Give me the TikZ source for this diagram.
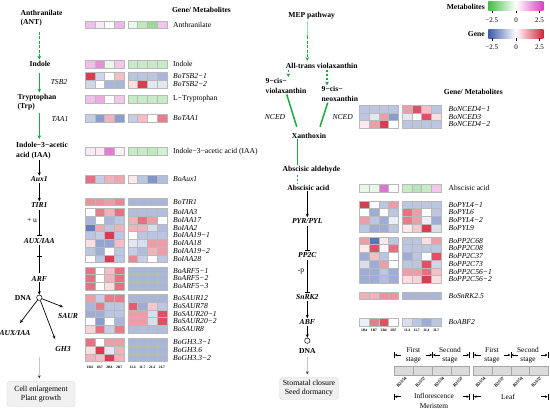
\documentclass[tikz,border=0pt]{standalone}
\usepackage{fontspec}
\setmainfont{Liberation Serif}
\usetikzlibrary{arrows.meta}
\definecolor{hR}{RGB}{214,38,62}
\definecolor{hB}{RGB}{62,92,172}
\definecolor{hG}{RGB}{70,190,70}
\definecolor{hM}{RGB}{212,70,190}
\definecolor{pgreen}{RGB}{25,170,65}
\newcommand\hrow[4]{%
  \foreach \cc [count=\i from 0] in {#3}{\filldraw[cellb,fill=\cc] ({#1+\i*9.75},{#2}) rectangle ++(9.75,7.75);}%
  \foreach \cc [count=\i from 0] in {#4}{\filldraw[cellb,fill=\cc] ({#1+42.8+\i*9.75},{#2}) rectangle ++(9.75,7.75);}%
}
\newcommand\lmark[2]{\draw[mk] (#1,{#2-3}) -- (#1,{#2+3}); \draw[mk,-{Stealth[length=2.5pt,width=2.5pt]}] ({#1+7},#2) -- ({#1+0.5},#2);}
\newcommand\rmark[2]{\draw[mk] (#1,{#2-3}) -- (#1,{#2+3}); \draw[mk,-{Stealth[length=2.5pt,width=2.5pt]}] ({#1-7},#2) -- ({#1-0.5},#2);}
\begin{document}
\begin{tikzpicture}[x=1pt,y=-1pt,
  cellb/.style={draw=gray!55,line width=0.35pt},
  pw/.style={font=\bfseries\fontsize{7.6}{9.6}\selectfont,inner sep=1pt},
  pg/.style={font=\bfseries\itshape\fontsize{7.6}{9.6}\selectfont,inner sep=1pt},
  lab/.style={font=\fontsize{7.6}{9}\selectfont,anchor=west,inner sep=0pt},
  glab/.style={lab,font=\itshape\fontsize{7.6}{9}\selectfont},
  smp/.style={font=\bfseries\fontsize{3.6}{4}\selectfont,inner sep=0pt},
  tick/.style={font=\fontsize{7}{8}\selectfont,inner sep=0pt},
  lg/.style={font=\fontsize{7.4}{9.3}\selectfont,inner sep=0pt,align=center},
  rot/.style={font=\bfseries\fontsize{4.4}{5}\selectfont,inner sep=0pt,rotate=45,anchor=east},
  mk/.style={line width=0.5pt},
  garrow/.style={draw=pgreen,line width=1.5pt,-{Stealth[length=3.8pt,width=3.8pt]}},
  gline/.style={draw=pgreen,line width=1.5pt},
  barrow/.style={draw=black,line width=0.7pt,-{Stealth[length=3.5pt,width=3pt]}},
  inh/.style={draw=black,line width=0.7pt,-{Bar[width=5pt,line width=0.8pt]}},
  grarrow/.style={draw=gray!45,line width=0.5pt,-{Stealth[length=3pt,width=2.8pt,color=black!80]}},
  outbox/.style={draw=gray!30,fill=gray!12,rounded corners=3pt,align=center,font=\fontsize{7.8}{9}\selectfont,inner sep=0pt}
]
\useasboundingbox (0,0) rectangle (550,409);

% ================= LEFT PATHWAY =================
\node[pw,anchor=west,align=left] (ant) at (19.5,18) {Anthranilate\\(ANT)};
\node[pw] (indole) at (40,63.5) {Indole};
\node[pw,anchor=west,align=left] (trp) at (16.5,102) {Tryptophan\\(Trp)};
\node[pw,anchor=west,align=left] (iaa) at (15,150.5) {Indole−3−acetic\\acid (IAA)};
\node[pg] (aux1) at (39.3,179.5) {Aux1};
\node[pg] (tir1) at (39.3,205) {TIR1};
\node[pg] (auxiaa) at (39.3,241) {AUX/IAA};
\node[pg] (arf) at (39.3,278.5) {ARF};
\node[draw,circle,minimum size=5.4pt,inner sep=0pt,line width=0.5pt] (dna) at (39.3,297.7) {};
\node[pw] (dnat) at (23,297.5) {DNA};
\node[pg] (saur) at (68,316) {SAUR};
\node[pg] (auxiaa2) at (15,333) {AUX/IAA};
\node[pg] (gh3) at (63,349.5) {GH3};
\node[outbox,minimum width=68pt,minimum height=25pt] (cell) at (41,394) {Cell enlargement\\Plant growth};
\node[font=\itshape\fontsize{7.6}{9}\selectfont] (tsb) at (59,82) {TSB2};
\node[font=\itshape\fontsize{7.6}{9}\selectfont] (taa) at (60,118.5) {TAA1};
\node[font=\fontsize{7.6}{9}\selectfont] (plusu) at (32,220) {+ u};

\coordinate (c1) at (39.3,32);
\coordinate (c2) at (39.3,72.7);
\coordinate (c3) at (39.3,113);
\draw[garrow,dashed,dash pattern=on 3pt off 1.5pt] (c1) -- (indole.north -| c1);
\draw[garrow] (c2) -- (trp.north -| c2);
\draw[garrow] (c3) -- ([yshift=2pt]iaa.north -| c3);
\draw[barrow] (iaa.south -| aux1) -- (aux1.north);
\draw[barrow] (aux1.south) -- (tir1.north);
\draw[inh] ([yshift=-1pt]tir1.south) -- ([yshift=1pt]auxiaa.north);
\draw[line width=0.7pt] (auxiaa.south) -- ([yshift=1.5pt]arf.north);
\draw[line width=0.8pt] (36.8,256) -- (41.8,256);
\draw[barrow] (arf.south) -- (dna.north);
\coordinate (saurE) at (63,307);
\coordinate (auxE) at (20,323);
\coordinate (gh3E) at (55,339);
\draw[barrow] (dna) -- (saurE);
\draw[barrow] (dna) -- (auxE);
\draw[barrow] (dna) -- (gh3E);
\coordinate (g1) at (39.3,357);
\draw[grarrow] (g1) -- ([yshift=3pt]cell.north -| g1);

% ================= LEFT HEATMAP =================
\node[pw] (hdrL) at (201.5,9.5) {Gene/ Metabolites};
\hrow{85}{20.7}{hM!35,hM!12,white,hM!40}{hG!10,hG!35,hG!55,hM!30}
\hrow{85}{60}{hM!35,hM!60,hG!12,hM!30}{hG!30,hG!30,hG!30,hG!30}
\hrow{85}{72.3}{hR!90,hB!25,white,hR!30}{hB!35,hB!35,hB!35,hB!45}
\hrow{85}{80.05}{hB!25,white,hB!45,hB!45}{hR!15,hR!90,hB!15,hB!15}
\hrow{85}{95}{hM!35,hM!45,white,hM!30}{hG!30,hG!30,hG!30,hG!30}
\hrow{85}{114.3}{hB!30,hB!60,hR!35,hB!60}{hB!30,hR!30,white,hR!60}
\hrow{85}{147.5}{hM!12,hM!12,hM!70,hM!8}{hG!30,hG!30,hG!35,hG!25}
\hrow{85}{175}{hR!65,hB!30,hR!35,hR!40}{hR!10,hB!35,hB!65,hB!40}
\hrow{85}{197.7}{hR!50,hR!50,hR!45,hR!55}{hB!45,hB!45,hB!45,hB!45}
\hrow{85}{208.3}{white,hR!60,hR!35,hR!65}{hB!40,hB!40,hB!40,hB!40}
\hrow{85}{216.05}{hB!45,white,hB!45,hB!35}{hR!35,hR!65,hR!45,white}
\hrow{85}{223.8}{hB!80,hR!40,hB!35,hR!35}{hR!35,hR!35,hB!20,hB!40}
\hrow{85}{231.55}{hB!35,hB!30,hR!90,hB!35}{white,hB!35,hB!35,hB!35}
\hrow{85}{239.3}{hR!15,hB!55,hB!55,hR!30}{hB!15,hB!20,hR!45,hR!45}
\hrow{85}{247.05}{hB!35,hB!50,white,hB!35}{hB!30,hB!40,hR!35,hR!45}
\hrow{85}{254.8}{white,hB!35,hR!90,hB!35}{hR!55,hB!30,white,hB!35}
\hrow{85}{266.7}{hR!65,white,hR!30,hR!65}{hB!45,hB!45,hB!45,hB!45}
\hrow{85}{274.45}{hR!65,white,hR!35,hR!65}{hB!45,hB!45,hB!45,hB!45}
\hrow{85}{282.2}{hR!65,white,hR!15,hR!65}{hB!45,hB!45,hB!45,hB!45}
\hrow{85}{294.3}{hR!45,hB!30,hR!60,hR!60}{hB!45,hB!45,hB!45,hB!45}
\hrow{85}{302.05}{hB!45,hR!60,hB!35,hB!35}{hR!75,hB!50,hR!25,hB!35}
\hrow{85}{309.8}{hB!50,hB!50,hB!35,hB!35}{hR!45,hR!45,hB!20,hR!80}
\hrow{85}{317.55}{white,hB!60,white,hB!45}{hR!45,hR!45,hB!20,hR!80}
\hrow{85}{325.3}{hR!20,hR!65,hB!30,hR!60}{hB!40,hB!40,hB!40,hB!40}
\hrow{85}{338.3}{hR!65,white,hR!45,hR!45}{hB!45,hB!45,hB!45,hB!45}
\hrow{85}{346.05}{hR!15,hR!90,hB!15,hR!35}{hB!45,hB!45,hB!45,hB!45}
\hrow{85}{353.8}{hR!35,hR!30,hR!90,hR!35}{hB!45,hB!45,hB!45,hB!45}
\foreach \t [count=\i from 0] in {1B4,1B7,2B4,2B7}{\node[smp] (sl\i) at ({89.9+\i*9.75},367.7) {\t};}
\foreach \t [count=\i from 0] in {1L4,1L7,2L4,2L7}{\node[smp] (sm\i) at ({132.7+\i*9.75},367.7) {\t};}

\node[lab] (l1) at (173,24.6) {Anthranilate};
\node[lab] (l2) at (173,63.9) {Indole};
\node[glab] (l3) at (173,76.2) {BoTSB2−1};
\node[glab] (l4) at (173,83.9) {BoTSB2−2};
\node[lab] (l5) at (173,98.9) {L−Tryptophan};
\node[glab] (l6) at (173,118.2) {BoTAA1};
\node[lab] (l7) at (173,151.4) {Indole−3−acetic acid (IAA)};
\node[glab] (l8) at (173,178.9) {BoAux1};
\node[glab] (l9) at (173,201.6) {BoTIR1};
\node[glab] (l10) at (173,212.2) {BoIAA3};
\node[glab] (l11) at (173,219.9) {BoIAA17};
\node[glab] (l12) at (173,227.7) {BoIAA2};
\node[glab] (l13) at (173,235.4) {BoIAA19−1};
\node[glab] (l14) at (173,243.2) {BoIAA18};
\node[glab] (l15) at (173,250.9) {BoIAA19−2};
\node[glab] (l16) at (173,258.7) {BoIAA28};
\node[glab] (l17) at (173,270.6) {BoARF5−1};
\node[glab] (l18) at (173,278.3) {BoARF5−2};
\node[glab] (l19) at (173,286.1) {BoARF5−3};
\node[glab] (l20) at (173,298.2) {BoSAUR12};
\node[glab] (l21) at (173,305.9) {BoSAUR78};
\node[glab] (l22) at (173,313.7) {BoSAUR20−1};
\node[glab] (l23) at (173,321.4) {BoSAUR20−2};
\node[glab] (l24) at (173,329.2) {BoSAUR8};
\node[glab] (l25) at (173,342.2) {BoGH3.3−1};
\node[glab] (l26) at (173,349.9) {BoGH3.6};
\node[glab] (l27) at (173,357.7) {BoGH3.3−2};

% ================= RIGHT PATHWAY =================
\node[pw] (mep) at (311.7,16) {MEP pathway};
\node[pw] (atv) at (321.7,65.7) {All-trans violaxanthin};
\node[pw,anchor=west,align=left] (cisv) at (264.5,85.7) {9−cis−\\violaxanthin};
\node[pw,anchor=west,align=left] (cisn) at (320.5,94) {9−cis−\\neoxanthin};
\node[font=\itshape\fontsize{7.6}{9}\selectfont] (ncedA) at (275,117) {NCED};
\node[font=\itshape\fontsize{7.6}{9}\selectfont] (ncedB) at (342.7,117.3) {NCED};
\node[pw] (xan) at (309,135.5) {Xanthoxin};
\node[pw] (aald) at (311.5,170) {Abscisic aldehyde};
\node[pw] (aacid) at (308.3,187.5) {Abscisic acid};
\node[pg] (pyr) at (307.3,221) {PYR/PYL};
\node[pg] (pp2c) at (307.3,255.5) {PP2C};
\node[font=\fontsize{7.6}{9}\selectfont] (ptx) at (301,271.7) {-p};
\node[pg] (snrk) at (307.3,297.5) {SnRK2};
\node[pg] (abf) at (307.3,322) {ABF};
\node[draw,circle,minimum size=5.4pt,inner sep=0pt,line width=0.5pt] (dna2) at (307.3,340.7) {};
\node[pw] (dnat2) at (307.3,350.5) {DNA};
\node[outbox,minimum width=59pt,minimum height=22pt] (stom) at (309,388.5) {Stomatal closure\\Seed dormancy};

\coordinate (m1) at (307.3,37.5);
\draw[draw=pgreen!45,line width=0.5pt,-{Stealth[length=2.5pt,width=2.5pt]}] (mep.south -| m1) -- (m1);
\draw[garrow,dashed,dash pattern=on 3pt off 1.5pt] ([yshift=1pt]m1) -- ([yshift=1pt]atv.north -| m1);
\coordinate (v1) at (288.3,70);
\coordinate (v2) at (327,70);
\draw[garrow,dashed,dash pattern=on 2.5pt off 1.5pt] (v1) -- (cisv.north -| v1);
\draw[garrow,dashed,dash pattern=on 2.5pt off 1.5pt] (v2) -- (cisn.north -| v2);
\coordinate (x1) at (296.7,126.7);
\coordinate (x2) at (320,126.7);
\draw[gline] (cisv.south -| 286.7,0) -- (x1);
\draw[gline] (cisn.south -| 327.7,0) -- (x2);
\coordinate (xa) at (297.7,142.7);
\draw[gline] (xan.south -| xa) -- (aald.north -| xa);
\draw[gline,dashed,dash pattern=on 2.5pt off 1.5pt] (aald.south -| xa) -- (aacid.north -| xa);
\draw[barrow] (aacid.south -| pyr) -- (pyr.north);
\draw[inh] ([yshift=-1pt]pyr.south) -- ([yshift=1pt]pp2c.north);
\draw[inh] ([yshift=-1pt]pp2c.south) -- ([yshift=1pt]snrk.north);
\draw[barrow] (snrk.south) -- (abf.north);
\draw[barrow] (abf.south) -- (dna2.north);
\coordinate (g2) at (307.3,356.7);
\draw[grarrow] (g2) -- ([yshift=3pt]stom.north -| g2);

% ================= RIGHT HEATMAP =================
\node[pw] (hdrR) at (473.3,92) {Gene/ Metabolites};
\hrow{359.3}{105}{hB!35,hB!35,hB!35,hB!35}{hR!45,hR!80,hR!30,hB!35}
\hrow{359.3}{112.75}{hB!35,hB!15,hR!45,hB!60}{hB!15,white,hR!80,hR!15}
\hrow{359.3}{120.5}{hR!10,hR!45,hR!90,white}{hB!35,hB!35,hB!35,hB!35}
\hrow{359.3}{184}{hG!12,hG!12,hM!75,white}{hG!30,hG!40,hG!30,hM!30}
\hrow{359.3}{200.7}{hR!90,white,hB!35,hR!45}{hB!35,hB!35,hB!35,hB!35}
\hrow{359.3}{208.45}{white,hB!50,white,hB!35}{hR!65,hR!45,white,hB!35}
\hrow{359.3}{216.2}{hR!45,hB!35,hB!50,hB!10}{hR!60,hR!45,hB!10,hB!50}
\hrow{359.3}{223.95}{hB!35,hB!50,hB!50,hB!35}{hR!10,hR!25,hR!90,hB!20}
\hrow{359.3}{236.7}{hR!45,hB!85,hR!10,hB!35}{hB!35,hB!35,hR!15,hR!45}
\hrow{359.3}{244.45}{hR!10,hR!80,white,hR!65}{hB!35,hB!35,hB!35,hB!35}
\hrow{359.3}{252.2}{hB!50,hR!30,hB!35,white}{hB!50,hB!35,white,hR!80}
\hrow{359.3}{259.95}{hB!20,hB!50,hR!45,white}{hB!35,hB!35,hR!80,hB!25}
\hrow{359.3}{267.7}{hB!50,hB!50,hB!35,hB!50}{hR!45,hR!45,hR!65,hR!30}
\hrow{359.3}{275.45}{hB!50,hB!50,hB!40,hB!50}{hR!15,hR!20,hR!90,hR!15}
\hrow{359.3}{291.7}{hR!35,hR!35,hR!50,hR!50}{hB!45,hB!45,hB!45,hB!45}
\hrow{359.3}{318.3}{hB!10,hR!60,hR!80,white}{hB!20,hB!35,hB!50,hB!35}
\foreach \t [count=\i from 0] in {1B4,1B7,2B4,2B7}{\node[smp] (rl\i) at ({364.2+\i*9.75},330.7) {\t};}
\foreach \t [count=\i from 0] in {1L4,1L7,2L4,2L7}{\node[smp] (rm\i) at ({407+\i*9.75},330.7) {\t};}

\node[glab] (r1) at (448.5,108.9) {BoNCED4−1};
\node[glab] (r2) at (448.5,116.6) {BoNCED3};
\node[glab] (r3) at (448.5,124.4) {BoNCED4−2};
\node[lab] (r4) at (448.5,187.9) {Abscisic acid};
\node[glab] (r5) at (448.5,204.6) {BoPYL4−1};
\node[glab] (r6) at (448.5,212.3) {BoPYL6};
\node[glab] (r7) at (448.5,220.1) {BoPYL4−2};
\node[glab] (r8) at (448.5,227.8) {BoPYL9};
\node[glab] (r9) at (448.5,240.6) {BoPP2C68};
\node[glab] (r10) at (448.5,248.3) {BoPP2C08};
\node[glab] (r11) at (448.5,256.1) {BoPP2C37};
\node[glab] (r12) at (448.5,263.8) {BoPP2C73};
\node[glab] (r13) at (448.5,271.6) {BoPP2C56−1};
\node[glab] (r14) at (448.5,279.3) {BoPP2C56−2};
\node[glab] (r15) at (448.5,295.6) {BoSnRK2.5};
\node[glab] (r16) at (448.5,322.2) {BoABF2};

% ================= COLOUR LEGEND =================
\node[pw,anchor=east] (metl) at (486,6.5) {Metabolites};
\shade[left color=hG,right color=hM,middle color=white] (488.3,2) rectangle (543.3,10.7);
\node[pw,anchor=east] (genl) at (486,34) {Gene};
\shade[left color=hB,right color=hR,middle color=white] (488.3,29.3) rectangle (543.3,38.3);
\foreach \xx/\tt [count=\i] in {491.7/−2.5,516/0,539.5/2.5}{
  \draw[line width=0.4pt] (\xx,10.7) -- (\xx,13.5);
  \node[tick] (ta\i) at (\xx,20.5) {\tt};
  \draw[line width=0.4pt] (\xx,38.3) -- (\xx,41.1);
  \node[tick] (tb\i) at (\xx,47.7) {\tt};
}

% ================= SAMPLE LEGEND =================
\foreach \i in {0,...,3}{\filldraw[draw=gray!70,fill=gray!28,line width=0.4pt] ({394.3+\i*18.8},366) rectangle ++(18.8,9.7);}
\foreach \i in {0,...,3}{\filldraw[draw=gray!70,fill=gray!28,line width=0.4pt] ({473.5+\i*18.6},366) rectangle ++(18.6,9.7);}
\foreach \t [count=\i from 0] in {B2S54,B2S57,B2S54,B2S57}{\node[rot] (bq\i) at ({406+\i*18.8},377.5) {\t};}
\foreach \t [count=\i from 0] in {B2S54,B2S57,B2S54,B2S57}{\node[rot] (bw\i) at ({485+\i*18.6},377.5) {\t};}
\lmark{394.3}{355}
\rmark{432.5}{355}\lmark{432.5}{355}
\rmark{469.5}{355}
\lmark{473.5}{355}
\rmark{510.8}{355}\lmark{510.8}{355}
\rmark{548}{355}
\node[lg] (st1) at (413.4,355.3) {First\\stage};
\node[lg] (st2) at (450,355.3) {Second\\stage};
\node[lg] (st3) at (492,355.3) {First\\stage};
\node[lg] (st4) at (528,355.3) {Second\\stage};
\lmark{394.3}{396.7}
\rmark{469.5}{396.7}
\lmark{473.5}{396.7}
\rmark{548}{396.7}
\node[lg] (infl) at (434,401) {Inflorescence\\Meristem};
\node[lg] (leaf) at (508,396.7) {Leaf};
\end{tikzpicture}
\end{document}
